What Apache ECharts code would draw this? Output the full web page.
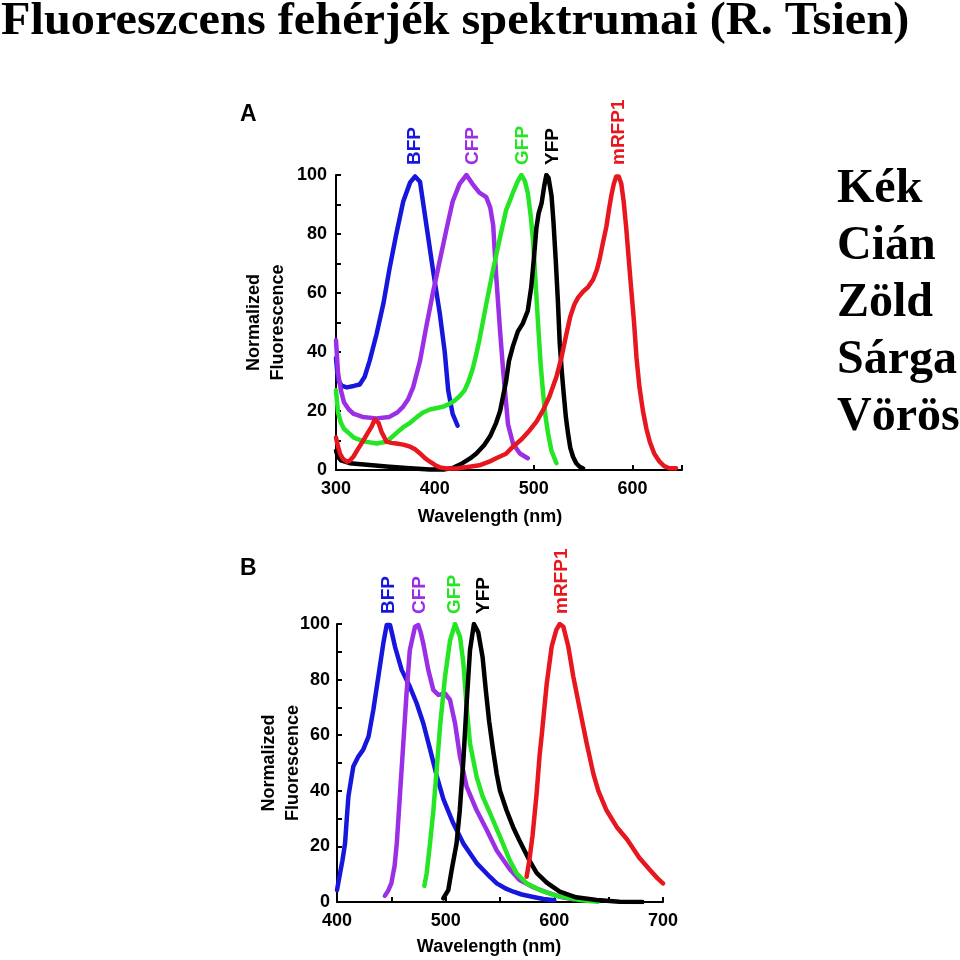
<!DOCTYPE html>
<html><head><meta charset="utf-8">
<script src="https://cdn.jsdelivr.net/npm/echarts@6/dist/echarts.min.js"></script>
<style>html,body{margin:0;padding:0;background:#fff}#c{width:960px;height:960px}</style>
</head><body><div id="c"></div>
<script>
// ---- Panel A (excitation) ----
const aBfpWl = [300,302,306,311,318,324,329,334,341,348,354,361,368,375,380,385,391,398,405,410,413.5,418,423];
const aBfpVal = [38,30.5,28.5,28,28.5,29,31.6,37,46,56.5,68,80,91,97.5,99.5,97.7,84,68,53,40,27,19,15];
const aCfpWl = [300,302,305,308,313,318,327,341,354,362,368,373,378,385,391,398,405,412,418,425,432,438,445,452,456,459,462,466,469,474,479,486,494];
const aCfpVal = [44,33,27,23,20.5,19,18,17.5,18,19.5,21.5,24,28,37,48,60,71,82,91,97,100,97,94,92.5,89,83,66,47,34,15.5,9,5.6,4];
const aGfpWl = [300,302,305,308,313,318,328,341,351,356,361,368,375,382,388,395,402,409,415,420,425,430,434,438,441,445,449,453,459,466,472,479,484,487.5,491,494,497,499.5,502,504.5,507,509.5,512,514.5,518,523];
const aGfpVal = [27,19.5,16,14,12.5,11,9.7,9,9.6,11,12.5,14.5,16,18,19.5,20.5,21,21.5,22.5,23.5,25,27,30,34,38,44,51,58,68,79,88,94,98,100,98,94,86,77,63,49,36,26,18,12.4,6.5,2.3];
const aYfpWl = [300,302,305,314,334,354,375,395,410,418,428,436,442,450,456,462,466,469,472,475,479,484,489,494,497.5,500,502.7,505,508,510.5,512.8,515,518,520,522.3,524.5,526.3,528.5,530.3,532.5,534.7,537,539.8,543,546.5,550];
const aYfpVal = [6.5,4.5,3.3,2.3,1.7,1.1,0.6,0.2,0.2,0.7,2.3,4,5.6,8.5,11.5,16,20,25,30,37,42,47,49.7,54,62,71,82,87,90.5,96,100,99,93,84,71,57,43,33,26,18,12.4,7.5,4.5,2.3,1.1,0.5];
const aRfpWl = [300,302,304,307,311,314,317.5,322,327.6,332,336,339,341,343,346,349,351,356,361,368,375,380,385,390,395,400,405,412,422,435,445,455,462,472,479,488,496,503,509.5,516,523,528,533,537,541,545,550,555,560,564,567,570,573.5,576,578.5,581,583.5,586,588.6,591,593.6,596,598.7,601.5,604,607,610.5,614,617.5,622,627.3,632,637.4,644];
const aRfpVal = [11,8,5.6,3.8,2.8,3.2,4.5,7,10,12.5,14.7,17,17.5,16,13,11,9.6,9.2,9,8.6,7.9,7,5.6,4,2.8,1.7,0.9,0.5,0.5,1.1,1.6,2.8,4,5.5,7.9,10.5,13.5,16.5,20.3,25,31.6,38,46,52,56,58.5,60.5,62,64.5,68,72,77,82.5,88,93,97,99.5,99.5,97,91,82,72,61,50,38,28,20,14,9.5,5.5,2.8,1.3,0.6,0.6];

// ---- Panel B (emission) ----
const bBfpWl = [400,402.8,405,407.4,409,410.5,413,415,419.6,424,429,433.4,438,442.6,445.7,448.8,451,453.4,459.5,467,473.3,479.4,485.6,491.7,497.9,507,516.3,528.5,540.8,547,556,562.3,570,580.7,590,600];
const bBfpVal = [4.3,10.3,15,21,30,38,44,48.7,52.3,54.7,59.5,69,81,93,99.6,99.6,96,91.8,83.5,77.5,71.5,64.3,55,45.5,37,28.3,21,14,9,6.7,4.7,3.7,2.7,1.8,1.1,0.6];
const bCfpWl = [444,447,450,453,455,458,461,464,467,471.8,474.8,477,479.4,484,488.6,493.3,499.4,504,508.6,513.2,519.3,528.5,537.7,547,559,568,580.7,593,605,617.5];
const bCfpVal = [2.2,4,6.7,13,21,39,57,75,90.6,99,99.6,97,93,83.5,76.3,74.5,75,72.7,64.3,52.3,41.5,33,26,18.5,11.8,7.9,5.3,3.5,1.9,1];
const bGfpWl = [480.4,482.5,485.6,488.7,491.7,494.8,499.4,504,508.6,513.2,516.3,519.3,522.4,528.5,534,540.8,550,559,565.3,574.5,586.8,602,623.6,640];
const bGfpVal = [5.8,10.3,21,33,47.5,63,81,94,100,95.4,86,70,57,45,38,32,23.5,15,10.3,6.7,4.3,2.2,0.7,0.1];
const bYfpWl = [497.8,502.4,505.5,510,513,516.3,519.3,522.4,526,530,534,537,540,543.5,547,550,556,562,568,577,583.7,593,605,620,639,660,681];
const bYfpVal = [1.3,4.3,11.5,21,33,51,71.5,90.6,100,97,88,76,65,55,46,40,33,27,22,15,10.5,7,3.7,1.7,0.7,0.1,0];
const bRfpWl = [574.5,577,580,583.7,586.5,588.4,593,597.6,601.9,605,608.3,612.9,617.5,623.6,629.8,636,640.5,648,657.4,667,678,688,695,700];
const bRfpVal = [9.1,15,24,39,53,60,78.5,92,98,100,99,91.8,81,69,57,46,40,33,27,22.5,16,11.5,8.5,6.7];

const proteinNames = ['BFP','CFP','GFP','YFP','mRFP1'];
const labelWlA = [380,438,489,519,586];
const labelWlB = [448,476,508.6,535,606.7];
const colorNames = ['Kék','Cián','Zöld','Sárga','Vörös'];
const titleText = 'Fluoreszcens fehérjék spektrumai (R. Tsien)';

const colors = ['#1616dc','#9a2fe6','#25e625','#000000','#e8161e'];
const SANS = '"Liberation Sans", Arial, Helvetica, sans-serif';
const SERIF = '"Liberation Serif", "Times New Roman", serif';

const seriesA = [[aBfpWl,aBfpVal],[aCfpWl,aCfpVal],[aGfpWl,aGfpVal],[aYfpWl,aYfpVal],[aRfpWl,aRfpVal]];
const seriesB = [[bBfpWl,bBfpVal],[bCfpWl,bCfpVal],[bGfpWl,bGfpVal],[bYfpWl,bYfpVal],[bRfpWl,bRfpVal]];
const pairs = (xs, ys) => xs.map((x, i) => [x, ys[i]]);

const tickFont = {fontFamily: SANS, fontWeight: 'bold', fontSize: 18, color: '#000'};
const axisLineStyle = {color: '#000', width: 2};

function xAxisCfg(gi, min, max, minor, namePad, gap) {
  return {
    gridIndex: gi, type: 'value', min: min, max: max, interval: 100,
    axisLine: {show: true, onZero: false, lineStyle: axisLineStyle},
    axisTick: {show: true, inside: true, length: 5, lineStyle: axisLineStyle},
    minorTick: {show: minor, splitNumber: 2, length: 5, lineStyle: axisLineStyle},
    splitLine: {show: false}, minorSplitLine: {show: false},
    axisLabel: Object.assign({margin: 10, formatter: v => (v % 100 === 0 ? String(v) : ''), showMaxLabel: true}, tickFont),
    name: 'Wavelength (nm)', nameLocation: 'middle', nameGap: gap, nameMoveOverlap: false,
    nameTextStyle: {fontFamily: SANS, fontWeight: 'bold', fontSize: 18, color: '#000', padding: [0, namePad, 0, 0]}
  };
}
function yAxisCfg(gi, gap, margin) {
  return {
    gridIndex: gi, type: 'value', min: 0, max: 100, interval: 20,
    axisLine: {show: true, lineStyle: axisLineStyle},
    axisTick: {show: true, inside: true, length: 5, lineStyle: axisLineStyle},
    minorTick: {show: true, splitNumber: 2, length: 5, lineStyle: axisLineStyle},
    splitLine: {show: false}, minorSplitLine: {show: false},
    axisLabel: Object.assign({margin: margin}, tickFont),
    name: 'Normalized\nFluorescence', nameLocation: 'middle', nameRotate: 90, nameGap: gap, nameMoveOverlap: false,
    nameTextStyle: {fontFamily: SANS, fontWeight: 'bold', fontSize: 18, lineHeight: 24, color: '#000'}
  };
}

const series = [];
seriesA.forEach((s, i) => series.push({
  type: 'line', name: 'A ' + proteinNames[i], xAxisIndex: 0, yAxisIndex: 0,
  data: pairs(s[0], s[1]), showSymbol: false, symbol: 'none', animation: false,
  lineStyle: {color: colors[i], width: 4.5, join: 'round', cap: 'round'}
}));
seriesB.forEach((s, i) => series.push({
  type: 'line', name: 'B ' + proteinNames[i], xAxisIndex: 1, yAxisIndex: 1,
  data: pairs(s[0], s[1]), showSymbol: false, symbol: 'none', animation: false,
  lineStyle: {color: colors[i], width: 4.5, join: 'round', cap: 'round'}
}));

const chart = echarts.init(document.getElementById('c'), null, {renderer: 'canvas'});
chart.setOption({
  backgroundColor: '#fff',
  animation: false,
  grid: [
    {left: 336, top: 175, width: 346, height: 295},
    {left: 337, top: 624, width: 326, height: 278}
  ],
  xAxis: [xAxisCfg(0, 300, 650, false, 38, 38), xAxisCfg(1, 400, 700, true, 22, 36)],
  yAxis: [yAxisCfg(0, 46, 9), yAxisCfg(1, 32, 7)],
  series: series
});

const graphics = [];
graphics.push({type: 'text', x: 1, y: 22, scaleX: 1.05, style: {text: titleText, font: 'bold 46px ' + SERIF, fill: '#000', verticalAlign: 'middle', align: 'left'}});
colorNames.forEach((t, i) => graphics.push({type: 'text', x: 837, y: 190 + i * 56.8, style: {text: t, font: 'bold 48px ' + SERIF, fill: '#000', verticalAlign: 'middle', align: 'left'}}));
graphics.push({type: 'text', x: 240, y: 115, style: {text: 'A', font: 'bold 23px ' + SANS, fill: '#000', verticalAlign: 'middle', align: 'left'}});
graphics.push({type: 'text', x: 240, y: 569, style: {text: 'B', font: 'bold 23px ' + SANS, fill: '#000', verticalAlign: 'middle', align: 'left'}});
[[0, labelWlA], [1, labelWlB]].forEach(([gi, wls]) => {
  wls.forEach((wl, i) => {
    const p = chart.convertToPixel({gridIndex: gi}, [wl, 100]);
    graphics.push({type: 'text', x: p[0], y: p[1] - 10, rotation: Math.PI / 2,
      style: {text: proteinNames[i], font: 'bold 19px ' + SANS, fill: colors[i], align: 'left', verticalAlign: 'middle'}});
  });
});
chart.setOption({graphic: graphics});
</script></body></html>
